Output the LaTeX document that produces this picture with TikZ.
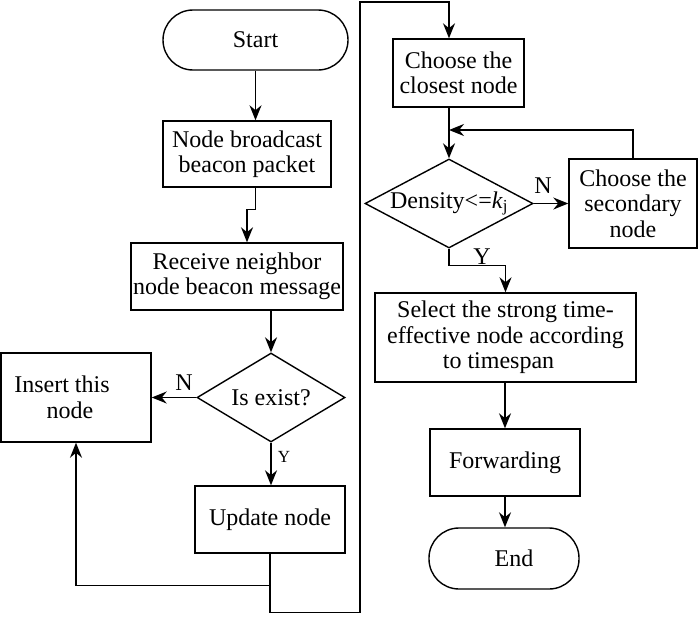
\documentclass[tikz,border=0pt]{standalone}
\usepackage{fontspec}
\setmainfont{Liberation Serif}
\usetikzlibrary{arrows.meta,shapes.geometric,calc}
\begin{document}
\begin{tikzpicture}[x=1pt,y=-1pt,
  every node/.style={font=\fontsize{24}{25.5}\selectfont},
  boxn/.style={draw,line width=1.4pt,inner sep=0pt,align=center},
  term/.style={boxn,rounded corners=30pt},
  dia/.style={draw,line width=1.4pt,diamond,inner sep=0pt},
  conn/.style={line width=1.4pt},
  arr/.style={conn,-{Stealth[length=15pt,width=12pt]}},
  lbl/.style={inner sep=0pt}]
\useasboundingbox (0,0) rectangle (700,621);
% left column
\node[term,minimum width=185pt,minimum height=60pt] (start) at (255.5,40) {Start};
\node[boxn,minimum width=168pt,minimum height=66pt] (bc) at (247,154) {Node broadcast\\beacon packet};
\node[boxn,minimum width=212pt,minimum height=67pt] (rx) at (237,276.5) {Receive neighbor\\node beacon message};
\node[dia,minimum width=148pt,minimum height=89pt] (ie) at (271,397.5) {};
\node[lbl] (iet) at (ie) {Is exist?};
\node[boxn,minimum width=150pt,minimum height=89pt] (ins) at (76,397.5) {Insert this\hspace*{28pt}\\node\hspace*{12pt}};
\node[boxn,minimum width=150pt,minimum height=67pt] (upd) at (270,519.5) {Update node};
% right column
\node[boxn,minimum width=131pt,minimum height=68pt] (cl) at (458.5,73) {Choose the\\closest node};
\node[dia,minimum width=168pt,minimum height=89pt] (den) at (449,203.5) {};
\node[lbl] (dent) at (den) {Density<=\textit{k}\textsubscript{j}};
\node[boxn,minimum width=128pt,minimum height=89pt] (sec) at (633,203.5) {Choose the\\secondary\\node};
\node[boxn,minimum width=261pt,minimum height=89pt] (sel) at (505.5,337.5) {Select the strong time-\\effective node according\\to timespan\hspace*{14pt}};
\node[boxn,minimum width=150pt,minimum height=67pt] (fw) at (505,462.5) {Forwarding};
\node[term,minimum width=150pt,minimum height=61pt] (end) at (504,558.5) {\hspace*{20pt}End};
% connectors left
\draw[arr] (start.south) -- (start.south |- bc.north);
\draw[arr] (bc.south -| start.south) -- ++(0,22) -| ([xshift=10pt]rx.north);
\draw[arr] (ie.north |- rx.south) -- (ie.north);
\draw[arr] (ie.west) -- (ins.east);
\node[lbl] (nl) at (184,383) {N};
\draw[arr] (ie.south) -- (ie.south |- upd.north);
\node[lbl,font=\fontsize{17}{19}\selectfont] (yl) at (284,457) {Y};
\coordinate (j1) at ($(upd.south)+(0,32)$);
\draw[arr] (upd.south) -- (j1) -| (ins.south);
\coordinate (t1) at (360,2);
\draw[arr] (j1) -- ++(0,27) -| (t1) -| (den.north |- cl.north);
% connectors right
\draw[arr] (den.north |- cl.south) -- (den.north);
\draw[arr] (den.east) -- (sec.west);
\node[lbl] (nr) at (543,186) {N};
\draw[arr] (sec.north) |- (den.north |- 0,130);
\draw[arr] (den.south) -- ++(0,17) -| (sel.north);
\node[lbl] (yr) at (482,257) {Y};
\draw[arr] (sel.south -| fw.north) -- (fw.north);
\draw[arr] (fw.south) -- (fw.south |- end.north);
\end{tikzpicture}
\end{document}
